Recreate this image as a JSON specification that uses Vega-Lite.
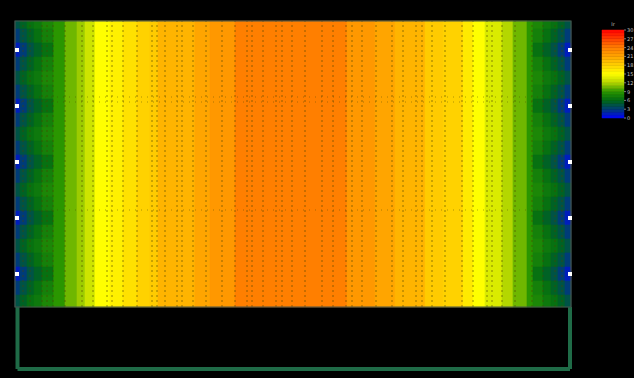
{
  "$schema": "https://vega.github.io/schema/vega-lite/v6.json",
  "width": 634,
  "height": 378,
  "autosize": {"type": "fit", "contains": "padding"},
  "padding": 0,
  "background": "black",
  "config": {"view": {"stroke": null}},
  "resolve": {"scale": {"y": "independent"}},
  "datasets": {
    "field": [
      {"x":38,"x2":50,"v":9},{"x":50,"x2":62,"v":10.5},{"x":62,"x2":70,"v":11.5},{"x":70,"x2":80,"v":13},{"x":80,"x2":95,"v":15},{"x":95,"x2":108,"v":16},{"x":108,"x2":122,"v":17},{"x":122,"x2":135,"v":18},{"x":135,"x2":143,"v":18.5},{"x":143,"x2":180,"v":20},{"x":180,"x2":195,"v":21},{"x":195,"x2":220,"v":22},{"x":220,"x2":332,"v":24},{"x":332,"x2":360,"v":22},{"x":360,"x2":380,"v":21},{"x":380,"x2":410,"v":20},{"x":410,"x2":428,"v":18.5},{"x":428,"x2":448,"v":18},{"x":448,"x2":458,"v":16.5},{"x":458,"x2":470,"v":15},{"x":470,"x2":487,"v":13.5},{"x":487,"x2":498,"v":12},{"x":498,"x2":512,"v":10.5},{"x":512,"x2":518,"v":9}
    ],
    "edge": [
      {"x":0,"x2":5,"y":278,"y2":286,"v":4.5},{"x":5,"x2":12,"y":278,"y2":286,"v":5.5},{"x":12,"x2":19,"y":278,"y2":286,"v":6.5},{"x":19,"x2":27,"y":278,"y2":286,"v":7},{"x":27,"x2":38,"y":278,"y2":286,"v":8},{"x":518,"x2":528,"y":278,"y2":286,"v":8},{"x":528,"x2":536,"y":278,"y2":286,"v":7},{"x":536,"x2":543,"y":278,"y2":286,"v":6.5},{"x":543,"x2":550,"y":278,"y2":286,"v":5.5},{"x":550,"x2":556,"y":278,"y2":286,"v":4.5},
      {"x":0,"x2":5,"y":264,"y2":278,"v":3},{"x":5,"x2":12,"y":264,"y2":278,"v":4.5},{"x":12,"x2":19,"y":264,"y2":278,"v":5.5},{"x":19,"x2":27,"y":264,"y2":278,"v":6.5},{"x":27,"x2":38,"y":264,"y2":278,"v":7.5},{"x":518,"x2":528,"y":264,"y2":278,"v":7.5},{"x":528,"x2":536,"y":264,"y2":278,"v":6.5},{"x":536,"x2":543,"y":264,"y2":278,"v":5.5},{"x":543,"x2":550,"y":264,"y2":278,"v":4.5},{"x":550,"x2":556,"y":264,"y2":278,"v":3},
      {"x":0,"x2":5,"y":250,"y2":264,"v":1.5},{"x":5,"x2":12,"y":250,"y2":264,"v":3},{"x":12,"x2":19,"y":250,"y2":264,"v":4.5},{"x":19,"x2":27,"y":250,"y2":264,"v":5.5},{"x":27,"x2":38,"y":250,"y2":264,"v":6.5},{"x":518,"x2":528,"y":250,"y2":264,"v":6.5},{"x":528,"x2":536,"y":250,"y2":264,"v":5.5},{"x":536,"x2":543,"y":250,"y2":264,"v":4.5},{"x":543,"x2":550,"y":250,"y2":264,"v":3},{"x":550,"x2":556,"y":250,"y2":264,"v":1.5},
      {"x":0,"x2":5,"y":236,"y2":250,"v":3},{"x":5,"x2":12,"y":236,"y2":250,"v":4.5},{"x":12,"x2":19,"y":236,"y2":250,"v":5.5},{"x":19,"x2":27,"y":236,"y2":250,"v":6.5},{"x":27,"x2":38,"y":236,"y2":250,"v":7.5},{"x":518,"x2":528,"y":236,"y2":250,"v":7.5},{"x":528,"x2":536,"y":236,"y2":250,"v":6.5},{"x":536,"x2":543,"y":236,"y2":250,"v":5.5},{"x":543,"x2":550,"y":236,"y2":250,"v":4.5},{"x":550,"x2":556,"y":236,"y2":250,"v":3},
      {"x":0,"x2":5,"y":222,"y2":236,"v":4.5},{"x":5,"x2":12,"y":222,"y2":236,"v":5.5},{"x":12,"x2":19,"y":222,"y2":236,"v":6.5},{"x":19,"x2":27,"y":222,"y2":236,"v":7},{"x":27,"x2":38,"y":222,"y2":236,"v":8},{"x":518,"x2":528,"y":222,"y2":236,"v":8},{"x":528,"x2":536,"y":222,"y2":236,"v":7},{"x":536,"x2":543,"y":222,"y2":236,"v":6.5},{"x":543,"x2":550,"y":222,"y2":236,"v":5.5},{"x":550,"x2":556,"y":222,"y2":236,"v":4.5},
      {"x":0,"x2":5,"y":208,"y2":222,"v":3},{"x":5,"x2":12,"y":208,"y2":222,"v":4.5},{"x":12,"x2":19,"y":208,"y2":222,"v":5.5},{"x":19,"x2":27,"y":208,"y2":222,"v":6.5},{"x":27,"x2":38,"y":208,"y2":222,"v":7.5},{"x":518,"x2":528,"y":208,"y2":222,"v":7.5},{"x":528,"x2":536,"y":208,"y2":222,"v":6.5},{"x":536,"x2":543,"y":208,"y2":222,"v":5.5},{"x":543,"x2":550,"y":208,"y2":222,"v":4.5},{"x":550,"x2":556,"y":208,"y2":222,"v":3},
      {"x":0,"x2":5,"y":194,"y2":208,"v":1.5},{"x":5,"x2":12,"y":194,"y2":208,"v":3},{"x":12,"x2":19,"y":194,"y2":208,"v":4.5},{"x":19,"x2":27,"y":194,"y2":208,"v":5.5},{"x":27,"x2":38,"y":194,"y2":208,"v":6.5},{"x":518,"x2":528,"y":194,"y2":208,"v":6.5},{"x":528,"x2":536,"y":194,"y2":208,"v":5.5},{"x":536,"x2":543,"y":194,"y2":208,"v":4.5},{"x":543,"x2":550,"y":194,"y2":208,"v":3},{"x":550,"x2":556,"y":194,"y2":208,"v":1.5},
      {"x":0,"x2":5,"y":180,"y2":194,"v":3},{"x":5,"x2":12,"y":180,"y2":194,"v":4.5},{"x":12,"x2":19,"y":180,"y2":194,"v":5.5},{"x":19,"x2":27,"y":180,"y2":194,"v":6.5},{"x":27,"x2":38,"y":180,"y2":194,"v":7.5},{"x":518,"x2":528,"y":180,"y2":194,"v":7.5},{"x":528,"x2":536,"y":180,"y2":194,"v":6.5},{"x":536,"x2":543,"y":180,"y2":194,"v":5.5},{"x":543,"x2":550,"y":180,"y2":194,"v":4.5},{"x":550,"x2":556,"y":180,"y2":194,"v":3},
      {"x":0,"x2":5,"y":166,"y2":180,"v":4.5},{"x":5,"x2":12,"y":166,"y2":180,"v":5.5},{"x":12,"x2":19,"y":166,"y2":180,"v":6.5},{"x":19,"x2":27,"y":166,"y2":180,"v":7},{"x":27,"x2":38,"y":166,"y2":180,"v":8},{"x":518,"x2":528,"y":166,"y2":180,"v":8},{"x":528,"x2":536,"y":166,"y2":180,"v":7},{"x":536,"x2":543,"y":166,"y2":180,"v":6.5},{"x":543,"x2":550,"y":166,"y2":180,"v":5.5},{"x":550,"x2":556,"y":166,"y2":180,"v":4.5},
      {"x":0,"x2":5,"y":152,"y2":166,"v":3},{"x":5,"x2":12,"y":152,"y2":166,"v":4.5},{"x":12,"x2":19,"y":152,"y2":166,"v":5.5},{"x":19,"x2":27,"y":152,"y2":166,"v":6.5},{"x":27,"x2":38,"y":152,"y2":166,"v":7.5},{"x":518,"x2":528,"y":152,"y2":166,"v":7.5},{"x":528,"x2":536,"y":152,"y2":166,"v":6.5},{"x":536,"x2":543,"y":152,"y2":166,"v":5.5},{"x":543,"x2":550,"y":152,"y2":166,"v":4.5},{"x":550,"x2":556,"y":152,"y2":166,"v":3},
      {"x":0,"x2":5,"y":138,"y2":152,"v":1.5},{"x":5,"x2":12,"y":138,"y2":152,"v":3},{"x":12,"x2":19,"y":138,"y2":152,"v":4.5},{"x":19,"x2":27,"y":138,"y2":152,"v":5.5},{"x":27,"x2":38,"y":138,"y2":152,"v":6.5},{"x":518,"x2":528,"y":138,"y2":152,"v":6.5},{"x":528,"x2":536,"y":138,"y2":152,"v":5.5},{"x":536,"x2":543,"y":138,"y2":152,"v":4.5},{"x":543,"x2":550,"y":138,"y2":152,"v":3},{"x":550,"x2":556,"y":138,"y2":152,"v":1.5},
      {"x":0,"x2":5,"y":124,"y2":138,"v":3},{"x":5,"x2":12,"y":124,"y2":138,"v":4.5},{"x":12,"x2":19,"y":124,"y2":138,"v":5.5},{"x":19,"x2":27,"y":124,"y2":138,"v":6.5},{"x":27,"x2":38,"y":124,"y2":138,"v":7.5},{"x":518,"x2":528,"y":124,"y2":138,"v":7.5},{"x":528,"x2":536,"y":124,"y2":138,"v":6.5},{"x":536,"x2":543,"y":124,"y2":138,"v":5.5},{"x":543,"x2":550,"y":124,"y2":138,"v":4.5},{"x":550,"x2":556,"y":124,"y2":138,"v":3},
      {"x":0,"x2":5,"y":110,"y2":124,"v":4.5},{"x":5,"x2":12,"y":110,"y2":124,"v":5.5},{"x":12,"x2":19,"y":110,"y2":124,"v":6.5},{"x":19,"x2":27,"y":110,"y2":124,"v":7},{"x":27,"x2":38,"y":110,"y2":124,"v":8},{"x":518,"x2":528,"y":110,"y2":124,"v":8},{"x":528,"x2":536,"y":110,"y2":124,"v":7},{"x":536,"x2":543,"y":110,"y2":124,"v":6.5},{"x":543,"x2":550,"y":110,"y2":124,"v":5.5},{"x":550,"x2":556,"y":110,"y2":124,"v":4.5},
      {"x":0,"x2":5,"y":96,"y2":110,"v":3},{"x":5,"x2":12,"y":96,"y2":110,"v":4.5},{"x":12,"x2":19,"y":96,"y2":110,"v":5.5},{"x":19,"x2":27,"y":96,"y2":110,"v":6.5},{"x":27,"x2":38,"y":96,"y2":110,"v":7.5},{"x":518,"x2":528,"y":96,"y2":110,"v":7.5},{"x":528,"x2":536,"y":96,"y2":110,"v":6.5},{"x":536,"x2":543,"y":96,"y2":110,"v":5.5},{"x":543,"x2":550,"y":96,"y2":110,"v":4.5},{"x":550,"x2":556,"y":96,"y2":110,"v":3},
      {"x":0,"x2":5,"y":82,"y2":96,"v":1.5},{"x":5,"x2":12,"y":82,"y2":96,"v":3},{"x":12,"x2":19,"y":82,"y2":96,"v":4.5},{"x":19,"x2":27,"y":82,"y2":96,"v":5.5},{"x":27,"x2":38,"y":82,"y2":96,"v":6.5},{"x":518,"x2":528,"y":82,"y2":96,"v":6.5},{"x":528,"x2":536,"y":82,"y2":96,"v":5.5},{"x":536,"x2":543,"y":82,"y2":96,"v":4.5},{"x":543,"x2":550,"y":82,"y2":96,"v":3},{"x":550,"x2":556,"y":82,"y2":96,"v":1.5},
      {"x":0,"x2":5,"y":68,"y2":82,"v":3},{"x":5,"x2":12,"y":68,"y2":82,"v":4.5},{"x":12,"x2":19,"y":68,"y2":82,"v":5.5},{"x":19,"x2":27,"y":68,"y2":82,"v":6.5},{"x":27,"x2":38,"y":68,"y2":82,"v":7.5},{"x":518,"x2":528,"y":68,"y2":82,"v":7.5},{"x":528,"x2":536,"y":68,"y2":82,"v":6.5},{"x":536,"x2":543,"y":68,"y2":82,"v":5.5},{"x":543,"x2":550,"y":68,"y2":82,"v":4.5},{"x":550,"x2":556,"y":68,"y2":82,"v":3},
      {"x":0,"x2":5,"y":54,"y2":68,"v":4.5},{"x":5,"x2":12,"y":54,"y2":68,"v":5.5},{"x":12,"x2":19,"y":54,"y2":68,"v":6.5},{"x":19,"x2":27,"y":54,"y2":68,"v":7},{"x":27,"x2":38,"y":54,"y2":68,"v":8},{"x":518,"x2":528,"y":54,"y2":68,"v":8},{"x":528,"x2":536,"y":54,"y2":68,"v":7},{"x":536,"x2":543,"y":54,"y2":68,"v":6.5},{"x":543,"x2":550,"y":54,"y2":68,"v":5.5},{"x":550,"x2":556,"y":54,"y2":68,"v":4.5},
      {"x":0,"x2":5,"y":40,"y2":54,"v":3},{"x":5,"x2":12,"y":40,"y2":54,"v":4.5},{"x":12,"x2":19,"y":40,"y2":54,"v":5.5},{"x":19,"x2":27,"y":40,"y2":54,"v":6.5},{"x":27,"x2":38,"y":40,"y2":54,"v":7.5},{"x":518,"x2":528,"y":40,"y2":54,"v":7.5},{"x":528,"x2":536,"y":40,"y2":54,"v":6.5},{"x":536,"x2":543,"y":40,"y2":54,"v":5.5},{"x":543,"x2":550,"y":40,"y2":54,"v":4.5},{"x":550,"x2":556,"y":40,"y2":54,"v":3},
      {"x":0,"x2":5,"y":26,"y2":40,"v":1.5},{"x":5,"x2":12,"y":26,"y2":40,"v":3},{"x":12,"x2":19,"y":26,"y2":40,"v":4.5},{"x":19,"x2":27,"y":26,"y2":40,"v":5.5},{"x":27,"x2":38,"y":26,"y2":40,"v":6.5},{"x":518,"x2":528,"y":26,"y2":40,"v":6.5},{"x":528,"x2":536,"y":26,"y2":40,"v":5.5},{"x":536,"x2":543,"y":26,"y2":40,"v":4.5},{"x":543,"x2":550,"y":26,"y2":40,"v":3},{"x":550,"x2":556,"y":26,"y2":40,"v":1.5},
      {"x":0,"x2":5,"y":12,"y2":26,"v":3},{"x":5,"x2":12,"y":12,"y2":26,"v":4.5},{"x":12,"x2":19,"y":12,"y2":26,"v":5.5},{"x":19,"x2":27,"y":12,"y2":26,"v":6.5},{"x":27,"x2":38,"y":12,"y2":26,"v":7.5},{"x":518,"x2":528,"y":12,"y2":26,"v":7.5},{"x":528,"x2":536,"y":12,"y2":26,"v":6.5},{"x":536,"x2":543,"y":12,"y2":26,"v":5.5},{"x":543,"x2":550,"y":12,"y2":26,"v":4.5},{"x":550,"x2":556,"y":12,"y2":26,"v":3},
      {"x":0,"x2":5,"y":0,"y2":12,"v":4.5},{"x":5,"x2":12,"y":0,"y2":12,"v":5.5},{"x":12,"x2":19,"y":0,"y2":12,"v":6.5},{"x":19,"x2":27,"y":0,"y2":12,"v":7},{"x":27,"x2":38,"y":0,"y2":12,"v":8},{"x":518,"x2":528,"y":0,"y2":12,"v":8},{"x":528,"x2":536,"y":0,"y2":12,"v":7},{"x":536,"x2":543,"y":0,"y2":12,"v":6.5},{"x":543,"x2":550,"y":0,"y2":12,"v":5.5},{"x":550,"x2":556,"y":0,"y2":12,"v":4.5}
    ],
    "meshx": [
      {"mx":8},{"mx":15},{"mx":27},{"mx":32},{"mx":38},{"mx":50},{"mx":67},{"mx":78},{"mx":92},{"mx":97},{"mx":108},{"mx":122},{"mx":137},{"mx":142},{"mx":150},{"mx":162},{"mx":167},{"mx":178},{"mx":191},{"mx":207},{"mx":220},{"mx":232},{"mx":237},{"mx":248},{"mx":261},{"mx":267},{"mx":277},{"mx":290},{"mx":307},{"mx":318},{"mx":331},{"mx":337},{"mx":347},{"mx":361},{"mx":377},{"mx":388},{"mx":401},{"mx":407},{"mx":417},{"mx":430},{"mx":447},{"mx":458},{"mx":472},{"mx":477},{"mx":487},{"mx":500},{"mx":517},{"mx":528},{"mx":540},{"mx":547}
    ],
    "meshy": [{"my":210},{"my":205},{"my":97}],
    "border": [
      {"x":2.5,"x2":2.5,"y":0,"y2":-62},
      {"x":555,"x2":555,"y":0,"y2":-62},
      {"x":2.5,"x2":555,"y":-62,"y2":-62}
    ],
    "outline": [{"x":0,"x2":556,"y":0,"y2":286}],
    "supports": [
      {"sx":2,"sy":257},{"sx":2,"sy":201},{"sx":2,"sy":145},{"sx":2,"sy":89},{"sx":2,"sy":33},
      {"sx":555,"sy":257},{"sx":555,"sy":201},{"sx":555,"sy":145},{"sx":555,"sy":89},{"sx":555,"sy":33}
    ],
    "bar": [
      {"lo":0,"hi":1,"v":0.5},{"lo":1,"hi":2,"v":1.5},{"lo":2,"hi":3,"v":2.5},{"lo":3,"hi":4,"v":3.5},{"lo":4,"hi":5,"v":4.5},{"lo":5,"hi":6,"v":5.5},{"lo":6,"hi":7,"v":6.5},{"lo":7,"hi":8,"v":7.5},{"lo":8,"hi":9,"v":8.5},{"lo":9,"hi":10,"v":9.5},{"lo":10,"hi":11,"v":10.5},{"lo":11,"hi":12,"v":11.5},{"lo":12,"hi":13,"v":12.5},{"lo":13,"hi":14,"v":13.5},{"lo":14,"hi":15,"v":14.5},{"lo":15,"hi":16,"v":15.5},{"lo":16,"hi":17,"v":16.5},{"lo":17,"hi":18,"v":17.5},{"lo":18,"hi":19,"v":18.5},{"lo":19,"hi":20,"v":19.5},{"lo":20,"hi":21,"v":20.5},{"lo":21,"hi":22,"v":21.5},{"lo":22,"hi":23,"v":22.5},{"lo":23,"hi":24,"v":23.5},{"lo":24,"hi":25,"v":24.5},{"lo":25,"hi":26,"v":25.5},{"lo":26,"hi":27,"v":26.5},{"lo":27,"hi":28,"v":27.5},{"lo":28,"hi":29,"v":28.5},{"lo":29,"hi":30,"v":29.5}
    ],
    "ticks": [{"t":0},{"t":3},{"t":6},{"t":9},{"t":12},{"t":15},{"t":18},{"t":21},{"t":24},{"t":27},{"t":30}]
  },
  "layer": [
    {
      "data": {"name": "border"},
      "mark": {"type": "rule", "color": "#1f6b47", "strokeWidth": 4},
      "encoding": {
        "x": {"field": "x", "type": "quantitative", "scale": {"domain": [-15, 619], "nice": false, "zero": false}, "axis": null},
        "x2": {"field": "x2"},
        "y": {"field": "y", "type": "quantitative", "scale": {"domain": [-71, 307], "nice": false, "zero": false}, "axis": null},
        "y2": {"field": "y2"}
      }
    },
    {
      "data": {"name": "field"},
      "mark": {"type": "rect", "strokeWidth": 0.6},
      "encoding": {
        "x": {"field": "x", "type": "quantitative", "scale": {"domain": [-15, 619], "nice": false, "zero": false}, "axis": null},
        "x2": {"field": "x2"},
        "y": {"datum": 0, "type": "quantitative", "scale": {"domain": [-71, 307], "nice": false, "zero": false}, "axis": null},
        "y2": {"datum": 286},
        "color": {"field": "v", "type": "quantitative", "legend": null, "scale": {"domain": [0,3,6,9,12,15,18,21,24,27,30], "range": ["#0000ff","#003c78","#006a14","#2a9600","#b4d700","#ffff00","#ffd200","#ffa500","#ff7f00","#ff4000","#ff0000"], "interpolate": "rgb"}},
        "stroke": {"field": "v", "type": "quantitative", "legend": null, "scale": {"domain": [0,3,6,9,12,15,18,21,24,27,30], "range": ["#0000ff","#003c78","#006a14","#2a9600","#b4d700","#ffff00","#ffd200","#ffa500","#ff7f00","#ff4000","#ff0000"], "interpolate": "rgb"}}
      }
    },
    {
      "data": {"name": "edge"},
      "mark": {"type": "rect", "strokeWidth": 0.6},
      "encoding": {
        "x": {"field": "x", "type": "quantitative", "scale": {"domain": [-15, 619], "nice": false, "zero": false}, "axis": null},
        "x2": {"field": "x2"},
        "y": {"field": "y", "type": "quantitative", "scale": {"domain": [-71, 307], "nice": false, "zero": false}, "axis": null},
        "y2": {"field": "y2"},
        "color": {"field": "v", "type": "quantitative", "legend": null, "scale": {"domain": [0,3,6,9,12,15,18,21,24,27,30], "range": ["#0000ff","#003c78","#006a14","#2a9600","#b4d700","#ffff00","#ffd200","#ffa500","#ff7f00","#ff4000","#ff0000"], "interpolate": "rgb"}},
        "stroke": {"field": "v", "type": "quantitative", "legend": null, "scale": {"domain": [0,3,6,9,12,15,18,21,24,27,30], "range": ["#0000ff","#003c78","#006a14","#2a9600","#b4d700","#ffff00","#ffd200","#ffa500","#ff7f00","#ff4000","#ff0000"], "interpolate": "rgb"}}
      }
    },
    {
      "data": {"name": "meshx"},
      "mark": {"type": "rule", "color": "#4a4400", "opacity": 0.6, "strokeWidth": 1, "strokeDash": [2, 3]},
      "encoding": {
        "x": {"field": "mx", "type": "quantitative", "scale": {"domain": [-15, 619], "nice": false, "zero": false}, "axis": null},
        "y": {"datum": 0, "type": "quantitative", "scale": {"domain": [-71, 307], "nice": false, "zero": false}, "axis": null},
        "y2": {"datum": 286}
      }
    },
    {
      "data": {"name": "meshy"},
      "mark": {"type": "rule", "color": "#4a4400", "opacity": 0.45, "strokeWidth": 1, "strokeDash": [1, 5]},
      "encoding": {
        "y": {"field": "my", "type": "quantitative", "scale": {"domain": [-71, 307], "nice": false, "zero": false}, "axis": null},
        "x": {"datum": 0, "type": "quantitative", "scale": {"domain": [-15, 619], "nice": false, "zero": false}, "axis": null},
        "x2": {"datum": 556}
      }
    },
    {
      "data": {"name": "outline"},
      "mark": {"type": "rect", "fillOpacity": 0, "stroke": "#46544c", "strokeWidth": 1.2},
      "encoding": {
        "x": {"field": "x", "type": "quantitative", "scale": {"domain": [-15, 619], "nice": false, "zero": false}, "axis": null},
        "x2": {"field": "x2"},
        "y": {"field": "y", "type": "quantitative", "scale": {"domain": [-71, 307], "nice": false, "zero": false}, "axis": null},
        "y2": {"field": "y2"}
      }
    },
    {
      "data": {"name": "supports"},
      "mark": {"type": "point", "shape": "square", "filled": true, "color": "white", "opacity": 1, "size": 16},
      "encoding": {
        "x": {"field": "sx", "type": "quantitative", "scale": {"domain": [-15, 619], "nice": false, "zero": false}, "axis": null},
        "y": {"field": "sy", "type": "quantitative", "scale": {"domain": [-71, 307], "nice": false, "zero": false}, "axis": null}
      }
    },
    {
      "data": {"name": "bar"},
      "mark": {"type": "rect", "strokeWidth": 0.5},
      "encoding": {
        "x": {"datum": 587, "type": "quantitative", "scale": {"domain": [-15, 619], "nice": false, "zero": false}, "axis": null},
        "x2": {"datum": 609},
        "y": {"field": "lo", "type": "quantitative", "scale": {"domain": [-88.64, 40.23], "nice": false, "zero": false}, "axis": null},
        "y2": {"field": "hi"},
        "color": {"field": "v", "type": "quantitative", "legend": null, "scale": {"domain": [0,3,6,9,12,15,18,21,24,27,30], "range": ["#0000ff","#003c78","#006a14","#2a9600","#b4d700","#ffff00","#ffd200","#ffa500","#ff7f00","#ff4000","#ff0000"], "interpolate": "rgb"}},
        "stroke": {"field": "v", "type": "quantitative", "legend": null, "scale": {"domain": [0,3,6,9,12,15,18,21,24,27,30], "range": ["#0000ff","#003c78","#006a14","#2a9600","#b4d700","#ffff00","#ffd200","#ffa500","#ff7f00","#ff4000","#ff0000"], "interpolate": "rgb"}}
      }
    },
    {
      "data": {"name": "ticks"},
      "mark": {"type": "rule", "color": "#9a9a9a", "strokeWidth": 0.8},
      "encoding": {
        "x": {"datum": 609, "type": "quantitative", "scale": {"domain": [-15, 619], "nice": false, "zero": false}, "axis": null},
        "x2": {"datum": 611},
        "y": {"field": "t", "type": "quantitative", "scale": {"domain": [-88.64, 40.23], "nice": false, "zero": false}, "axis": null}
      }
    },
    {
      "data": {"name": "ticks"},
      "mark": {"type": "text", "align": "left", "baseline": "middle", "font": "DejaVu Sans", "fontSize": 5, "color": "#c0c0c0", "dx": 1},
      "encoding": {
        "x": {"datum": 611, "type": "quantitative", "scale": {"domain": [-15, 619], "nice": false, "zero": false}, "axis": null},
        "y": {"field": "t", "type": "quantitative", "scale": {"domain": [-88.64, 40.23], "nice": false, "zero": false}, "axis": null},
        "text": {"field": "t", "type": "quantitative"}
      }
    },
    {
      "data": {"values": [{"s": "lr"}]},
      "mark": {"type": "text", "align": "center", "baseline": "middle", "font": "DejaVu Sans", "fontSize": 5, "color": "#c0c0c0"},
      "encoding": {
        "x": {"datum": 598, "type": "quantitative", "scale": {"domain": [-15, 619], "nice": false, "zero": false}, "axis": null},
        "y": {"datum": 32, "type": "quantitative", "scale": {"domain": [-88.64, 40.23], "nice": false, "zero": false}, "axis": null},
        "text": {"field": "s", "type": "nominal"}
      }
    }
  ]
}
